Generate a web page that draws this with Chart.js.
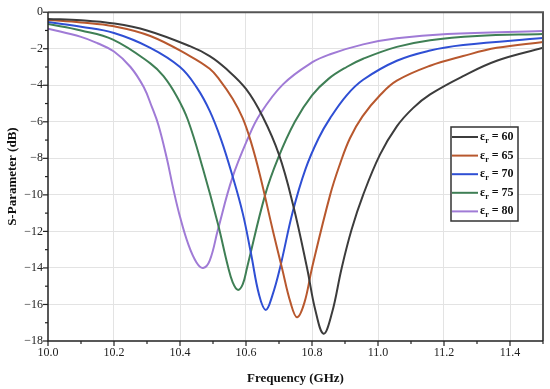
<!DOCTYPE html>
<html>
<head>
<meta charset="utf-8">
<script src="https://cdn.jsdelivr.net/npm/chart.js@4.4.0/dist/chart.umd.min.js"></script>
<style>
  html, body { margin: 0; padding: 0; background: #fff; }
  #wrap { width: 550px; height: 389px; }
</style>
</head>
<body>
<div id="wrap"><canvas id="grafico" width="550" height="389"></canvas></div>
<script>
// valores (GHz / dB)
const rotulos = ["60", "65", "70", "75", "80"];
const cores = ["#3c3c3c", "#b8582e", "#2f4fd4", "#3f7f55", "#a07bd6"];

const freq60 = [10.0, 10.1, 10.2, 10.3, 10.43, 10.49, 10.54, 10.6, 10.65, 10.7, 10.742, 10.785, 10.81, 10.835, 10.86, 10.89, 10.92, 10.955, 11.006, 11.057, 11.106, 11.158, 11.258, 11.36, 11.5];
const s60 = [-0.37, -0.44, -0.62, -1.0, -1.86, -2.4, -3.1, -4.2, -5.7, -7.8, -10.5, -14.0, -16.3, -17.6, -16.5, -14.0, -11.9, -10.0, -7.8, -6.25, -5.25, -4.5, -3.5, -2.66, -1.95];

const freq65 = [10.0, 10.1, 10.2, 10.31, 10.43, 10.49, 10.52, 10.56, 10.59, 10.615, 10.642, 10.682, 10.709, 10.735, 10.755, 10.777, 10.8, 10.855, 10.885, 10.915, 10.953, 11.006, 11.057, 11.158, 11.258, 11.36, 11.5];
const s65 = [-0.43, -0.56, -0.77, -1.3, -2.4, -3.1, -3.7, -4.75, -5.8, -7.1, -8.9, -12.0, -14.0, -15.9, -16.7, -15.9, -14.0, -10.0, -8.3, -6.9, -5.7, -4.55, -3.75, -2.93, -2.4, -1.95, -1.63];

const freq70 = [10.0, 10.1, 10.2, 10.31, 10.4, 10.45, 10.49, 10.525, 10.558, 10.59, 10.615, 10.64, 10.66, 10.68, 10.703, 10.742, 10.78, 10.82, 10.855, 10.905, 10.955, 11.057, 11.158, 11.258, 11.5];
const s70 = [-0.54, -0.8, -1.14, -1.95, -3.0, -4.1, -5.4, -7.0, -8.9, -11.0, -13.2, -15.5, -16.3, -15.5, -14.0, -10.9, -8.6, -6.9, -5.8, -4.55, -3.7, -2.66, -2.1, -1.8, -1.41];

const freq75 = [10.0, 10.1, 10.197, 10.31, 10.35, 10.39, 10.424, 10.47, 10.515, 10.545, 10.56, 10.575, 10.59, 10.603, 10.658, 10.697, 10.748, 10.8, 10.85, 10.905, 10.955, 11.057, 11.158, 11.3, 11.5];
const s75 = [-0.65, -1.0, -1.5, -2.8, -3.5, -4.6, -5.9, -8.6, -11.6, -13.9, -14.8, -15.2, -14.9, -14.0, -10.0, -8.0, -6.0, -4.55, -3.65, -3.0, -2.55, -1.9, -1.53, -1.3, -1.19];

const freq80 = [10.0, 10.1, 10.15, 10.2, 10.25, 10.29, 10.315, 10.335, 10.36, 10.38, 10.4, 10.425, 10.45, 10.47, 10.49, 10.515, 10.558, 10.606, 10.642, 10.712, 10.8, 10.855, 10.955, 11.057, 11.21, 11.5];
const s80 = [-0.9, -1.35, -1.7, -2.15, -3.0, -4.1, -5.2, -6.2, -8.0, -9.7, -11.2, -12.7, -13.7, -14.0, -13.6, -11.9, -9.1, -6.9, -5.6, -3.95, -2.75, -2.3, -1.76, -1.43, -1.19, -1.03];

const freqs = [freq60, freq65, freq70, freq75, freq80];
const valores = [s60, s65, s70, s75, s80];

const serif = "'Liberation Serif', 'Times New Roman', serif";

/* --- moldura, marcas dos eixos e legenda --- */
const extras = {
  id: "extras",
  afterDatasetsDraw(chart) {
    const ctx = chart.ctx;
    const area = chart.chartArea;
    const sx = chart.scales.x;
    const sy = chart.scales.y;
    ctx.save();

    // marcas no eixo x
    ctx.strokeStyle = "#222";
    ctx.lineWidth = 1.2;
    for (let i = 0; i <= 15; i++) {
      const px = sx.getPixelForValue(10 + i * 0.1);
      const len = i % 2 === 0 ? 5 : 3;
      ctx.beginPath();
      ctx.moveTo(px, area.bottom);
      ctx.lineTo(px, area.bottom + len);
      ctx.stroke();
    }
    // marcas no eixo y
    for (let v = 0; v >= -18; v--) {
      const py = sy.getPixelForValue(v);
      const len = v % 2 === 0 ? 5 : 3;
      ctx.beginPath();
      ctx.moveTo(area.left, py);
      ctx.lineTo(area.left - len, py);
      ctx.stroke();
    }

    // moldura
    ctx.strokeStyle = "#555";
    ctx.lineWidth = 2;
    ctx.beginPath();
    ctx.moveTo(area.left, area.top);
    ctx.lineTo(area.right, area.top);
    ctx.lineTo(area.right, area.bottom);
    ctx.stroke();
    ctx.strokeStyle = "#222";
    ctx.lineWidth = 1.5;
    ctx.beginPath();
    ctx.moveTo(area.left, area.top);
    ctx.lineTo(area.left, area.bottom);
    ctx.lineTo(area.right, area.bottom);
    ctx.stroke();

    // legenda
    const bx = 451, by = 127, bw = 67, bh = 94;
    ctx.fillStyle = "#fff";
    ctx.fillRect(bx, by, bw, bh);
    ctx.strokeStyle = "#333";
    ctx.lineWidth = 1.5;
    ctx.strokeRect(bx, by, bw, bh);
    chart.data.datasets.forEach((ds, i) => {
      const y = by + 10 + i * 18.6;
      ctx.strokeStyle = ds.borderColor;
      ctx.lineWidth = 2;
      ctx.beginPath();
      ctx.moveTo(bx + 1, y);
      ctx.lineTo(bx + 27, y);
      ctx.stroke();
      ctx.fillStyle = "#111";
      ctx.textBaseline = "middle";
      ctx.textAlign = "left";
      let tx = bx + 29;
      ctx.font = "bold 12px " + serif;
      ctx.fillText("ε", tx, y);
      tx += ctx.measureText("ε").width;
      ctx.font = "bold 8px " + serif;
      ctx.fillText("r", tx, y + 4);
      tx += ctx.measureText("r").width;
      ctx.font = "bold 12px " + serif;
      ctx.fillText(" = " + ds.label, tx, y);
    });
    ctx.restore();
  }
};

const ctx = document.getElementById("grafico").getContext("2d");

window.grafico = new Chart(ctx, {
  type: "line",
  data: {
    datasets: rotulos.map((r, i) => ({
      label: r,
      data: freqs[i].map((f, k) => ({ x: f, y: valores[i][k] })),
      borderColor: cores[i],
      backgroundColor: cores[i],
      borderWidth: 2,
      pointRadius: 0,
      fill: false,
      tension: 0.4
    }))
  },
  options: {
    responsive: false,
    animation: false,
    layout: { padding: { top: 9, right: 7, left: 0, bottom: 0 } },
    plugins: {
      legend: { display: false },
      tooltip: { enabled: false }
    },
    scales: {
      x: {
        type: "linear",
        min: 10,
        max: 11.5,
        afterFit: (s) => { s.height = 48; },
        border: { display: false },
        grid: {
          drawTicks: false,
          color: (c) => {
            const n = Math.round(c.tick.value * 10);
            return (n % 2 === 0 && n !== 100) ? "#e3e3e3" : "rgba(0,0,0,0)";
          }
        },
        ticks: {
          stepSize: 0.1,
          padding: 5,
          maxRotation: 0,
          autoSkip: false,
          color: "#222",
          font: { family: serif, size: 12 },
          callback: (v) => Math.round(v * 10) % 2 === 0 ? Number(v).toFixed(1) : ""
        },
        title: {
          display: true,
          text: "Frequency (GHz)",
          color: "#111",
          font: { family: serif, size: 13, weight: "bold" },
          padding: { top: 0, bottom: 3 }
        }
      },
      y: {
        min: -18,
        max: 0,
        afterFit: (s) => { s.width = 48; },
        border: { display: false },
        grid: {
          drawTicks: false,
          color: (c) => {
            const v = Math.round(c.tick.value);
            return (v % 2 === 0 && v !== 0 && v !== -18) ? "#e3e3e3" : "rgba(0,0,0,0)";
          }
        },
        ticks: {
          stepSize: 1,
          padding: 5,
          autoSkip: false,
          color: "#222",
          font: { family: serif, size: 12 },
          callback: (v) => {
            const n = Math.round(v);
            if (n % 2 !== 0) return "";
            return n === 0 ? "0" : "\u2212" + Math.abs(n);
          }
        },
        title: {
          display: true,
          text: "S-Parameter (dB)",
          color: "#111",
          font: { family: serif, size: 13, weight: "bold" },
          padding: { top: 5, bottom: 0 }
        }
      }
    }
  },
  plugins: [extras]
});
</script>
</body>
</html>
